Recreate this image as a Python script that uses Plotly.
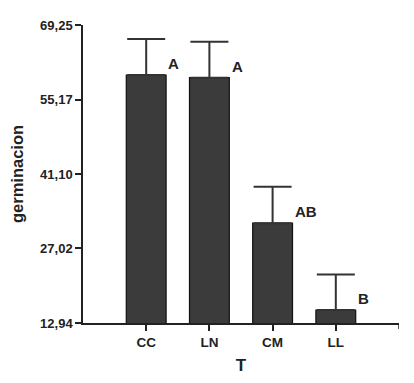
import plotly.graph_objects as go

categories = ["CC", "LN", "CM", "LL"]
means = [59.8, 59.3, 31.8, 15.4]
errors = [6.8, 6.8, 6.9, 6.7]
letters = ["A", "A", "AB", "B"]
y_ticks = [12.94, 27.02, 41.10, 55.17, 69.25]
y_tick_labels = ["12,94", "27,02", "41,10", "55,17", "69,25"]

xpos = list(range(1, len(categories) + 1))

fig = go.Figure()
fig.add_trace(go.Bar(
    x=xpos, y=means, width=0.63,
    marker=dict(color="#3b3b3b", line=dict(color="#111111", width=1.2)),
    error_y=dict(type="data", array=errors, symmetric=False, arrayminus=[0]*4,
                 color="#333333", thickness=2, width=19),
))

for x, m, e, t in zip(xpos, means, errors, letters):
    fig.add_annotation(x=x + 0.32, y=m, text=f"<b>{t}</b>", showarrow=False,
                       xanchor="left", yanchor="bottom", yshift=1,
                       font=dict(family="Arial", size=15, color="#222222"))

# right-end tick on x axis
fig.add_shape(type="line", xref="x", yref="paper", x0=5, x1=5, y0=0, y1=-0.02,
              line=dict(color="#222222", width=1.5))

fig.update_layout(
    width=414, height=383,
    margin=dict(l=83, r=15, t=25, b=60, autoexpand=False),
    plot_bgcolor="white", paper_bgcolor="white",
    showlegend=False,
    font=dict(family="Arial", color="#222222"),
    xaxis=dict(range=[0, 5], tickvals=xpos, ticktext=categories,
               showline=True, linecolor="#222222", linewidth=1.5,
               ticks="outside", ticklen=6, tickwidth=1.5, tickcolor="#222222",
               showgrid=False, zeroline=False,
               tickfont=dict(family="Arial", size=13.5, weight="bold"),
               title=dict(text="<b>T</b>", font=dict(family="Arial", size=17), standoff=10)),
    yaxis=dict(range=[12.94, 69.25], tickvals=y_ticks, ticktext=y_tick_labels,
               showline=True, linecolor="#222222", linewidth=1.5,
               ticks="outside", ticklen=6, tickwidth=1.5, tickcolor="#222222",
               showgrid=False, zeroline=False,
               tickfont=dict(family="Arial", size=13, weight="bold"),
               title=dict(text="<b>germinacion</b>", font=dict(family="Arial", size=16.5), standoff=12)),
)

fig.write_html("out.html", config={"displayModeBar": False},
               post_script="document.body.style.margin='0';")
